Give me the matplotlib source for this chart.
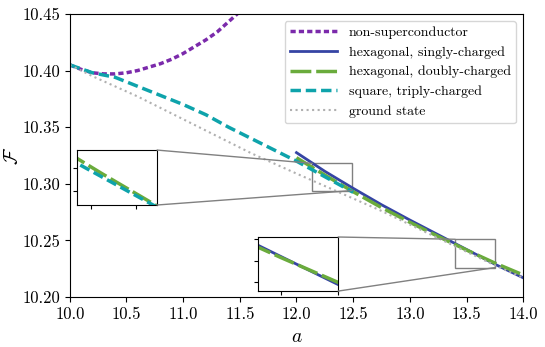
import matplotlib
matplotlib.use("Agg")
import matplotlib.pyplot as plt
from matplotlib.patches import Rectangle, ConnectionPatch
import numpy as np

plt.rcParams['font.family'] = 'serif'
plt.rcParams['font.serif'] = ['cmr10']
plt.rcParams['mathtext.fontset'] = 'cm'
plt.rcParams['axes.formatter.use_mathtext'] = True

# non-superconductor
a_ns = [10.0, 10.1, 10.2, 10.3, 10.4, 10.5, 10.6, 10.7, 10.8, 10.9, 11.0,
        11.1, 11.2, 11.3, 11.4, 11.5, 11.6]
F_ns = [10.405, 10.401, 10.398, 10.397, 10.397, 10.398, 10.400, 10.403,
        10.406, 10.410, 10.415, 10.421, 10.427, 10.434, 10.443, 10.452, 10.461]

# hexagonal, singly-charged
a_hex = [12.0, 12.25, 12.5, 12.75, 13.0, 13.25, 13.5, 13.75, 14.0]
F_hex1 = [10.3275, 10.3110, 10.2960, 10.2815, 10.2680, 10.2550, 10.2420,
          10.2290, 10.2170]
# hexagonal, doubly-charged
F_hex2 = [10.3230, 10.3077, 10.2930, 10.2790, 10.2660, 10.2535, 10.2415,
          10.2300, 10.2195]

# square, triply-charged
a_sq = [10.0, 10.2, 10.4, 10.6, 10.8, 11.0, 11.2, 11.4, 11.6, 11.8, 12.0,
        12.2, 12.4, 12.5]
F_sq = [10.405, 10.398, 10.394, 10.386, 10.378, 10.370, 10.361, 10.350,
        10.340, 10.330, 10.320, 10.309, 10.298, 10.2925]

# ground state
a_gs = [10.0, 10.2, 10.4, 10.6, 10.8, 11.0, 11.2, 11.4, 11.6, 11.8, 12.0,
        12.25, 12.5, 12.75, 13.0, 13.25, 13.5, 13.75, 14.0]
F_gs = [10.405, 10.395, 10.386, 10.377, 10.367, 10.357, 10.347, 10.337,
        10.327, 10.318, 10.309, 10.298, 10.287, 10.276, 10.264, 10.252,
        10.240, 10.228, 10.217]

c_ns = '#7b2aab'
c_h1 = '#3544a4'
c_h2 = '#6aab3c'
c_sq = '#0ea3ab'
c_gs = '#b0b0b0'

fig = plt.figure(figsize=(5.45, 3.47), dpi=100)
ax = fig.add_axes([0.128, 0.144, 0.832, 0.816])

ax.plot(a_ns, F_ns, color=c_ns, lw=2.5, dashes=(1.5, 0.9), label='non-superconductor')
ax.plot(a_hex, F_hex1, color=c_h1, lw=2, label='hexagonal, singly-charged')
ax.plot(a_hex, F_hex2, color=c_h2, lw=2.5, dashes=(6, 1.4), label='hexagonal, doubly-charged')
ax.plot(a_sq, F_sq, color=c_sq, lw=2.5, dashes=(3, 1.4), label='square, triply-charged')
ax.plot(a_gs, F_gs, color=c_gs, lw=1.5, ls=':', label='ground state')

ax.set_xlim(10.0, 14.0)
ax.set_ylim(10.20, 10.45)
ax.set_xticks(np.arange(10.0, 14.01, 0.5))
ax.set_yticks(np.arange(10.20, 10.451, 0.05))
ax.xaxis.set_major_formatter(matplotlib.ticker.FormatStrFormatter('%.1f'))
ax.yaxis.set_major_formatter(matplotlib.ticker.FormatStrFormatter('%.2f'))
ax.tick_params(labelsize=12)
ax.set_xlabel('$a$', fontsize=14)
ax.set_ylabel(r'$\mathcal{F}$', fontsize=14, labelpad=0)
ax.legend(loc='upper right', fontsize=10, handlelength=3.4)

# insets
insets = [
    dict(pos=[0.0155, 0.325, 0.177, 0.194], xlim=(12.14, 12.49), ylim=(10.294, 10.318),
         xt=[12.2, 12.4], yt=[10.30, 10.31], curves=['h2', 'sq']),
    dict(pos=[0.415, 0.021, 0.177, 0.191], xlim=(13.40, 13.75), ylim=(10.226, 10.251),
         xt=[13.5, 13.75], yt=[10.23, 10.24, 10.25], curves=['h1', 'h2']),
]
series = {
    'h1': (a_hex, F_hex1, dict(color=c_h1, lw=2)),
    'h2': (a_hex, F_hex2, dict(color=c_h2, lw=2.5, dashes=(6, 1.4))),
    'sq': (a_sq, F_sq, dict(color=c_sq, lw=2.5, dashes=(3, 1.4))),
}
for ins in insets:
    axins = ax.inset_axes(ins['pos'])
    for key in ins['curves']:
        xs, ys, kw = series[key]
        axins.plot(xs, ys, **kw)
    x0, x1 = ins['xlim']
    y0, y1 = ins['ylim']
    axins.set_xlim(x0, x1)
    axins.set_ylim(y0, y1)
    axins.set_xticks(ins['xt'])
    axins.set_yticks(ins['yt'])
    axins.tick_params(labelbottom=False, labelleft=False, length=3)
    ax.add_patch(Rectangle((x0, y0), x1 - x0, y1 - y0, fill=False, ec='grey', lw=1))
    for pa, pb in [((1, 1), (x0, y1)), ((1, 0), (x1, y0))]:
        con = ConnectionPatch(xyA=pa, coordsA=axins.transAxes, xyB=pb,
                              coordsB=ax.transData, color='grey', lw=1)
        fig.add_artist(con)

plt.savefig('out.png')
